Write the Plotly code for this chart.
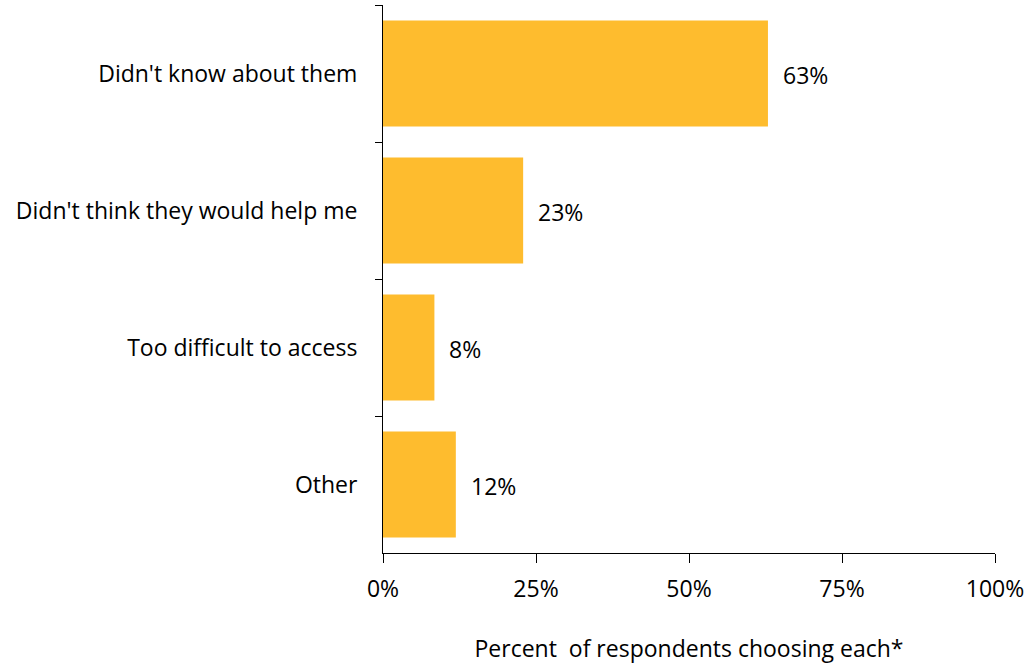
import plotly.graph_objects as go

categories = ["Didn't know about them", "Didn't think they would help me", "Too difficult to access", "Other"]
values = [62.9, 22.9, 8.4, 11.9]
value_labels = ["63%", "23%", "8%", "12%"]
x_ticks = [0, 25, 50, 75, 100]
x_tick_labels = ["0%", "25%", "50%", "75%", "100%"]

FONT = "Open Sans"
FS = 23
BAR = "#FEBC2E"

fig = go.Figure(go.Bar(
    y=categories, x=values, orientation="h",
    marker=dict(color=BAR, line=dict(width=0)),
    hoverinfo="skip",
))

for c, v, t in zip(categories, values, value_labels):
    fig.add_annotation(x=v, y=c, text=t, showarrow=False, xanchor="left",
                       xshift=13, yshift=-1, font=dict(family=FONT, size=FS, color="#000"))

fig.update_layout(
    width=1035, height=668,
    margin=dict(l=383, r=40, t=5, b=115),
    paper_bgcolor="white", plot_bgcolor="white",
    bargap=0.225, showlegend=False,
    font=dict(family=FONT, size=FS, color="#000"),
)
fig.update_xaxes(
    range=[0, 100], tickvals=x_ticks, ticktext=x_tick_labels,
    showgrid=False, zeroline=False, showline=True, linecolor="#000", linewidth=1,
    ticks="outside", ticklen=9, tickcolor="#000", ticklabelstandoff=6,
    title=dict(text="Percent  of respondents choosing each*", standoff=38,
               font=dict(family=FONT, size=FS)),
)
fig.update_yaxes(
    categoryorder="array", categoryarray=categories, autorange="reversed",
    showgrid=False, showline=True, linecolor="#000", linewidth=1,
    ticks="outside", ticklen=7, tickcolor="#000", tickson="boundaries",
    ticklabelstandoff=20,
)
fig.write_html("out.html", config={"displayModeBar": False},
               post_script="document.body.style.margin='0';")
